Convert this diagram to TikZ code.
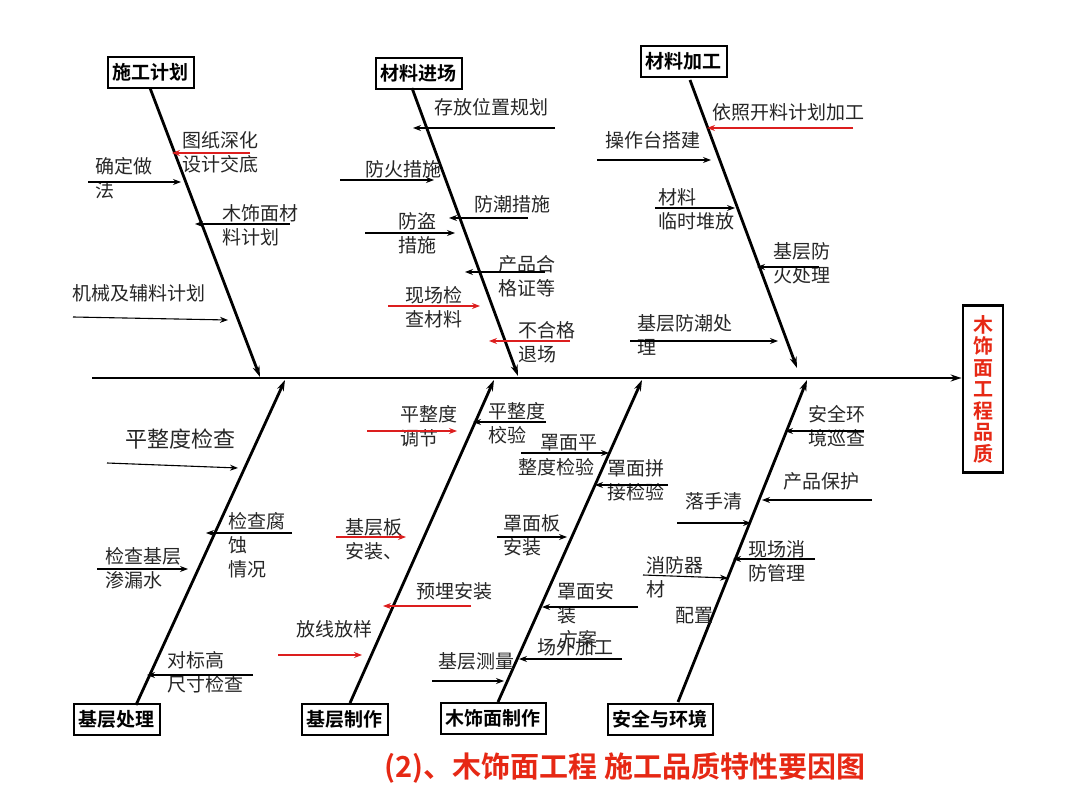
\documentclass[tikz,border=0pt]{standalone}
\usepackage{fontspec}
\setmainfont{Noto Sans CJK SC}
\newfontfamily\cjkb{Noto Sans CJK SC Bold}
\usetikzlibrary{arrows.meta}
\definecolor{rd}{RGB}{220,30,30}
\definecolor{cap}{RGB}{230,40,20}
\newcommand{\lf}{\fontsize{19}{24}\selectfont}
\tikzset{
 lbl/.style={anchor=north west,inner sep=0pt,align=left,font=\lf,text=black!85},
 ar/.style={-{Stealth[length=8pt,width=6pt]},line width=1.1pt},
 rar/.style={ar,draw=rd},
 bone/.style={-{Stealth[length=11pt,width=7pt]},line width=2.8pt},
 cat/.style={draw,line width=1.8pt,inner sep=5pt,font=\cjkb\fontsize{19}{22}\selectfont,minimum height=31pt}
}
\begin{document}
\begin{tikzpicture}[x=1pt,y=-1pt]
\useasboundingbox (0,0) rectangle (1080,810);
% spine
\node[draw,line width=2.8pt,minimum width=40pt,minimum height=167pt,inner sep=0pt,align=center,text=cap,font=\cjkb\fontsize{20}{21.5}\selectfont] (head) at (983,389) {木\\饰\\面\\工\\程\\品\\质};
\coordinate (s0) at (92,378);
\draw[bone] (s0) -- (head.west |- s0);
% categories
\node[cat,anchor=north west] (c1) at (107,56) {施工计划};
\node[cat,anchor=north west] (c2) at (375,57) {材料进场};
\node[cat,anchor=north west] (c3) at (640,45) {材料加工};
\node[cat,anchor=north west] (c4) at (73,703) {基层处理};
\node[cat,anchor=north west] (c5) at (301,703) {基层制作};
\node[cat,anchor=north west] (c6) at (440,702) {木饰面制作};
\node[cat,anchor=north west] (c7) at (607,703) {安全与环境};
\coordinate (e1) at (260,377); \coordinate (e2) at (518,376); \coordinate (e3) at (797,368);
\coordinate (e4) at (285,380); \coordinate (e5) at (494,380); \coordinate (e6) at (642,380); \coordinate (e7) at (807,380);
\draw[bone] (150,88) -- (e1);
\draw[bone] (412,88) -- (e2);
\draw[bone] (690,80) -- (e3);
\draw[bone] (136,705) -- (e4);
\draw[bone] (350,703) -- (e5);
\draw[bone] (498,702) -- (e6);
\draw[bone] (678,702) -- (e7);
% 施工计划
\node[lbl] (t1) at (182,131) {图纸深化\\设计交底}; \draw[rar] (250,153) -- (172,153);
\node[lbl] (t2) at (95,157) {确定做\\法}; \draw[ar] (88,182) -- (181,182);
\node[lbl] (t3) at (222,204) {木饰面材\\料计划}; \draw[ar] (290,224) -- (195,224);
\node[lbl] (t4) at (72,284) {机械及辅料计划}; \draw[ar] (73,317) -- (228,320);
% 材料进场
\node[lbl] (t5) at (434,98) {存放位置规划}; \draw[ar] (555,128) -- (413,128);
\node[lbl] (t6) at (365,160) {防火措施}; \draw[ar] (340,180) -- (434,180);
\node[lbl] (t7) at (474,195) {防潮措施}; \draw[ar] (528,218) -- (449,218);
\node[lbl] (t8) at (398,212) {防盗\\措施}; \draw[ar] (365,233) -- (455,233);
\node[lbl] (t9) at (498,255) {产品合\\格证等}; \draw[ar] (545,272) -- (465,272);
\node[lbl] (t10) at (405,286) {现场检\\查材料}; \draw[rar] (388,306) -- (480,306);
\node[lbl] (t11) at (518,321) {不合格\\退场}; \draw[rar] (570,341) -- (489,341);
% 材料加工
\node[lbl] (t12) at (712,103) {依照开料计划加工}; \draw[rar] (853,128) -- (707,128);
\node[lbl] (t13) at (605,131) {操作台搭建}; \draw[ar] (597,160) -- (711,160);
\node[lbl] (t14) at (658,188) {材料\\临时堆放}; \draw[ar] (655,208) -- (735,208);
\node[lbl] (t15) at (773,242) {基层防\\火处理}; \draw[ar] (819,267) -- (757,267);
\node[lbl] (t16) at (637,314) {基层防潮处\\理}; \draw[ar] (630,341) -- (778,341);
% 基层处理
\node[lbl,font=\fontsize{22}{24}\selectfont] (t17) at (125,429) {平整度检查}; \draw[ar] (107,463) -- (238,468);
\node[lbl] (t18) at (228,512) {检查腐\\蚀\\情况}; \draw[ar] (292,533) -- (206,533);
\node[lbl] (t19) at (105,547) {检查基层\\渗漏水}; \draw[ar] (97,569) -- (188,569);
\node[lbl] (t20) at (167,651) {对标高\\尺寸检查}; \draw[ar] (253,675) -- (147,675);
% 基层制作
\node[lbl] (t21) at (400,405) {平整度\\调节}; \draw[rar] (367,431) -- (457,431);
\node[lbl] (t22) at (345,518) {基层板\\安装、}; \draw[rar] (336,537) -- (406,537);
\node[lbl] (t23) at (416,582) {预埋安装}; \draw[rar] (471,606) -- (383,606);
\node[lbl] (t24) at (296,620) {放线放样}; \draw[rar] (278,655) -- (362,655);
% 木饰面制作
\node[lbl] (t25) at (488,402) {平整度\\校验}; \draw[ar] (546,422) -- (473,422);
\node[lbl] (t26) at (540,434) {罩面平}; \node[lbl] (t26b) at (518,458) {整度检验}; \draw[ar] (521,453) -- (609,453);
\node[lbl] (t27) at (607,459) {罩面拼\\接检验}; \draw[ar] (668,485) -- (595,485);
\node[lbl] (t28) at (503,514) {罩面板\\安装}; \draw[ar] (497,537) -- (567,537);
\node[lbl] (t29) at (557,582) {罩面安\\装}; \node[lbl] (t29b) at (559,630) {方案};
\node[lbl] (t30) at (537,638) {场外加工}; \draw[ar] (638,607) -- (542,607);
\draw[ar] (622,659) -- (519,659);
\node[lbl] (t31) at (438,652) {基层测量}; \draw[ar] (432,681) -- (504,681);
% 安全与环境
\node[lbl] (t32) at (808,405) {安全环\\境巡查}; \draw[ar] (864,431) -- (785,431);
\node[lbl] (t33) at (783,472) {产品保护}; \draw[ar] (872,500) -- (762,500);
\node[lbl] (t34) at (685,492) {落手清}; \draw[ar] (677,523) -- (751,523);
\node[lbl] (t35) at (748,540) {现场消\\防管理}; \draw[ar] (815,559) -- (733,559);
\node[lbl] (t36) at (646,556) {消防器\\材}; \draw[ar] (643,575) -- (728,578);
\node[lbl] (t37) at (675,607) {配置};
% caption
\node[text=cap,font=\cjkb\fontsize{29}{32}\selectfont,inner sep=0pt] (capn) at (625,768) {(2)、木饰面工程\ 施工品质特性要因图};
\end{tikzpicture}
\end{document}
